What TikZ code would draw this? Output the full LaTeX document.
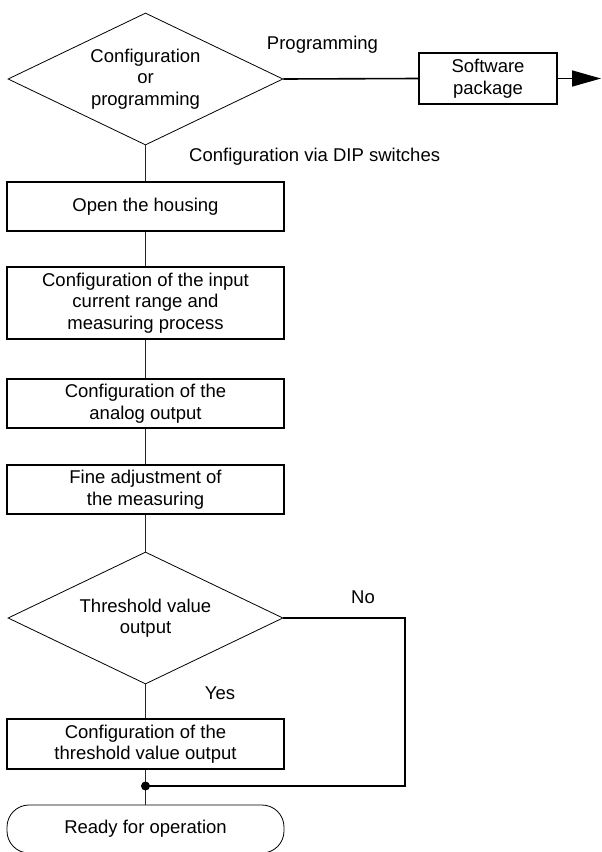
\documentclass[tikz,border=0pt]{standalone}
\usepackage{fontspec}
\setmainfont{Liberation Sans}
\usetikzlibrary{shapes.geometric,arrows.meta}
\begin{document}
\begin{tikzpicture}[x=1pt,y=-1pt,
  every node/.style={font=\fontsize{18.5}{21.5}\selectfont, text=black},
  dec/.style={draw, diamond, shape aspect=2.07, minimum width=275pt, minimum height=132pt, inner sep=0pt, line width=0.8pt, align=center},
  box/.style={draw, rectangle, minimum width=277pt, line width=1.6pt, inner sep=2pt, align=center},
  term/.style={draw, rectangle, rounded corners=22pt, minimum width=277pt, minimum height=48pt, line width=0.8pt},
  conn/.style={line width=0.8pt, draw=black!85},
  thk/.style={line width=1.6pt},
  lbl/.style={inner sep=0pt}]
\useasboundingbox (0,0) rectangle (602,852);

\node[dec] (d1) at (145.5,79) {Configuration\\or\\programming};
\node[box, minimum width=138pt, minimum height=51pt] (sw) at (488,78.5) {Software\\package};
\node[box, minimum height=49pt] (b1) at (145.5,206.5) {Open the housing};
\node[box, minimum height=72pt] (b2) at (145.5,303) {Configuration of the input\\current range and\\measuring process};
\node[box, minimum height=49pt] (b3) at (145.5,403.5) {Configuration of the\\analog output};
\node[box, minimum height=49pt] (b4) at (145.5,489.5) {Fine adjustment of\\the measuring};
\node[dec] (d2) at (145.5,618) {Threshold value\\output};
\node[box, minimum height=50pt] (b5) at (145.5,744) {Configuration of the\\threshold value output};
\node[term] (t) at (145.5,829) {Ready for operation};

\node[lbl] (lprog) at (322.5,45) {Programming};
\node[lbl, anchor=west] (ldip) at (189,157) {Configuration via DIP switches};
\node[lbl] (lyes) at (220,693) {Yes};
\node[lbl] (lno) at (363,597) {No};

\coordinate (tip) at (601,78.5);
\coordinate (nr) at (405,618);
\coordinate (nb) at (405,786);
\coordinate (j) at (145.5,786);

\draw[thk] (d1.east) -- (sw.west);
\draw[thk, -{Triangle[length=29pt,width=16pt]}] (sw.east) -- (tip);
\draw[conn] (d1.south) -- (b1.north);
\draw[conn] (b1.south) -- (b2.north);
\draw[conn] (b2.south) -- (b3.north);
\draw[conn] (b3.south) -- (b4.north);
\draw[conn] (b4.south) -- (d2.north);
\draw[conn] (d2.south) -- (b5.north);
\draw[conn] (b5.south) -- (t.north);
\draw[thk] (d2.east) -- (nr) -- (nb) -- (j);
\fill (j) circle (4.5pt);
\end{tikzpicture}
\end{document}
